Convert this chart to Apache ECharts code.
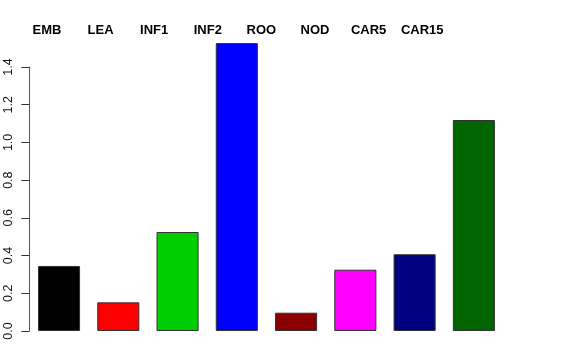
<!DOCTYPE html>
<html>
<head>
<meta charset="utf-8">
<script src="https://cdn.jsdelivr.net/npm/echarts@6/dist/echarts.min.js"></script>
<style>html,body{margin:0;padding:0;background:#fff}#c{width:576px;height:360px}</style>
</head>
<body>
<div id="c"></div>
<script>
var categories = ['EMB', 'LEA', 'INF1', 'INF2', 'ROO', 'NOD', 'CAR5', 'CAR15'];
var values = [0.345, 0.152, 0.525, 1.527, 0.097, 0.325, 0.407, 1.119];
var colors = ['#000000', '#FF0000', '#00CD00', '#0000FF', '#8B0000', '#FF00FF', '#000080', '#006400'];
var yTicks = [0, 0.2, 0.4, 0.6, 0.8, 1.0, 1.2, 1.4];

var chart = echarts.init(document.getElementById('c'), null, {renderer: 'canvas'});
chart.setOption({
  backgroundColor: '#ffffff',
  animation: false,
  grid: [
    {left: 29.4, right: 72.5, top: 67, bottom: 29},
    {left: 20.2, right: 127, top: 40, height: 1}
  ],
  xAxis: [
    {type: 'category', gridIndex: 0, data: categories, show: false},
    {type: 'category', gridIndex: 1, data: categories, position: 'top',
     axisLine: {show: false}, axisTick: {show: false},
     axisLabel: {interval: 0, margin: 3, fontFamily: 'Liberation Sans', fontWeight: 'bold', fontSize: 13, color: '#000'}}
  ],
  yAxis: [
    {type: 'value', gridIndex: 0, min: yTicks[0], max: yTicks[yTicks.length - 1], interval: 0.2,
     splitLine: {show: false},
     axisLine: {show: true, lineStyle: {color: '#555', width: 1}},
     axisTick: {show: true, length: 8, lineStyle: {color: '#333'}},
     axisLabel: {rotate: 90, margin: 14, fontFamily: 'Liberation Sans', fontSize: 12.5, color: '#111',
       formatter: function (v) { return v.toFixed(1); }}},
    {type: 'value', gridIndex: 1, show: false}
  ],
  series: [{
    type: 'bar',
    xAxisIndex: 0, yAxisIndex: 0,
    clip: false,
    barWidth: '71%',
    data: values.map(function (v, i) {
      return {value: v, itemStyle: {color: colors[i]}};
    }),
    itemStyle: {borderColor: '#333', borderWidth: 1}
  }]
});
</script>
</body>
</html>
